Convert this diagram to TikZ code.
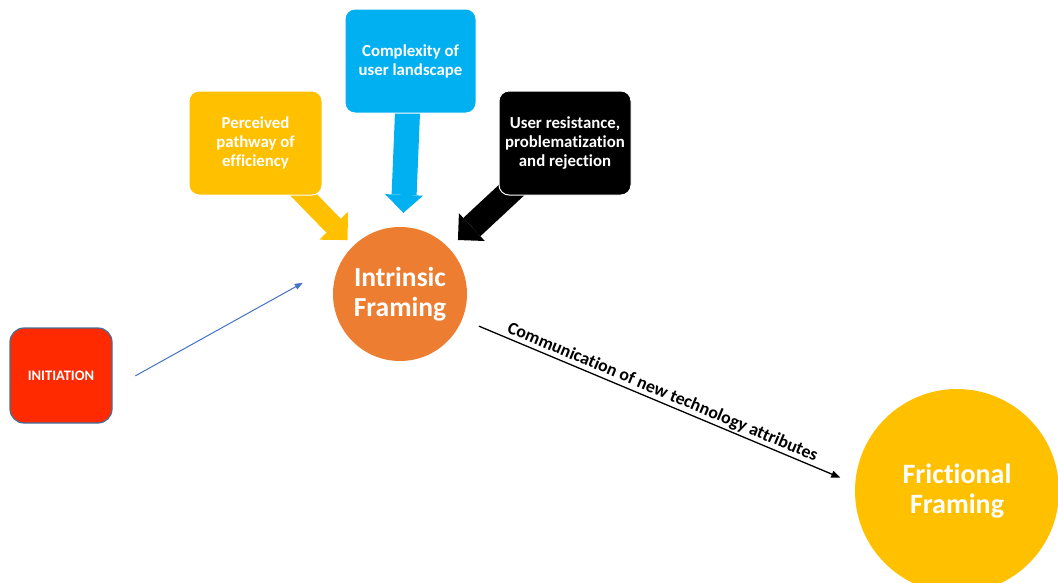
\documentclass[tikz,border=0pt]{standalone}
\usepackage{fontspec}
\setmainfont{Carlito}[Ligatures=NoCommon]
\usetikzlibrary{arrows.meta,calc,backgrounds}

\definecolor{initred}{HTML}{FF2A00}
\definecolor{initedge}{HTML}{41719C}
\definecolor{framorange}{HTML}{ED7D31}
\definecolor{goldc}{HTML}{FFC000}
\definecolor{skyc}{HTML}{00B0F0}
\definecolor{linkblue}{HTML}{4472C4}

\tikzset{
  factorbox/.style={rounded corners=10pt, fill=#1, draw=white, line width=1pt,
    minimum height=104pt, inner sep=0pt, text=white, align=center,
    font=\fontsize{16.8}{19}\selectfont\bfseries},
  framecircle/.style={circle, fill=#1, inner sep=0pt, text=white, align=center},
  blockarrow/.style n args={4}{draw=#1, line width=#2,
    -{Triangle[length=#4, width=#3, line width=0pt]}},
}

\begin{document}
\begin{tikzpicture}[x=1pt,y=-1pt]
\path[use as bounding box] (0,0) rectangle (1058,582);
\clip (0,0) rectangle (1058,582);

% framing circles
\node[framecircle=framorange, minimum size=134pt,
      font=\fontsize{27.5}{30}\selectfont\bfseries] (intr) at (400,294) {Intrinsic\\Framing};
\node[framecircle=goldc, minimum size=204pt,
      font=\fontsize{28}{30}\selectfont\bfseries] (fric) at (957,491) {Frictional\\Framing};

% influencing factors
\node[factorbox=goldc, minimum width=133pt] (perc) at (255.5,143) {Perceived\\pathway of\\efficiency};
\node[factorbox=skyc, minimum width=131pt] (cplx) at (410.5,61) {Complexity of\\user landscape};
\node[factorbox=black, minimum width=132pt] (resist) at (565,143) {User resistance,\\problematization\\and rejection};

% starting point
\node[rounded corners=14pt, fill=initred, draw=initedge, line width=1.2pt,
      minimum width=102pt, minimum height=95pt, inner sep=0pt, text=white,
      font=\fontsize{14.5}{17}\selectfont\bfseries] (init) at (61,375.5) {INITIATION};

% block arrows from the factors into the intrinsic framing
\begin{scope}[on background layer]
  \draw[blockarrow={goldc}{20pt}{40pt}{20pt}, shorten >=8pt]
    ($(perc.south east)+(-28,-10)$) -- (intr);
  \draw[blockarrow={skyc}{25pt}{38pt}{18pt}, shorten >=14pt]
    ($(cplx.south)+(-2.5,-13)$) -- (intr);
  \draw[blockarrow={black}{25pt}{38pt}{19pt}, shorten >=12pt]
    ($(resist.south west)+(18,-10)$) -- (intr);
\end{scope}

% initiation link
\draw[linkblue, line width=1pt, -{Triangle[length=8pt, width=6pt]},
      shorten <=26pt, shorten >=44pt]
  ($(init.east)+(0,13)$) -- (intr.151);

% communication link
\draw[black, line width=1.3pt, -{Triangle[length=9pt, width=7pt]},
      shorten <=18pt, shorten >=16pt]
  (intr.-22.6) -- node[sloped, above, inner sep=1.5pt,
      font=\fontsize{17.8}{20}\selectfont\bfseries]
      {Communication of new technology attributes} (fric.176);
\end{tikzpicture}
\end{document}
